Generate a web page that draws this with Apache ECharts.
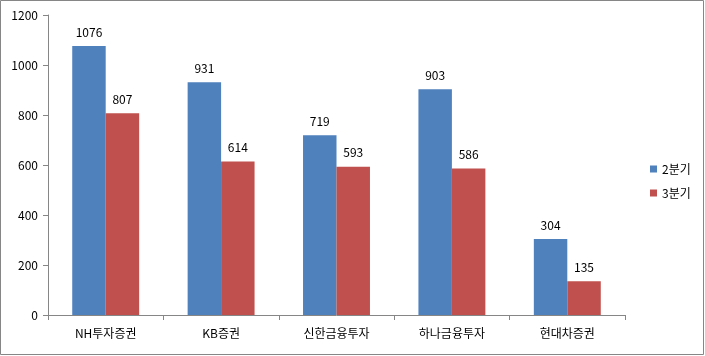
<!DOCTYPE html>
<html><head><meta charset="utf-8">
<script src="https://cdn.jsdelivr.net/npm/echarts@6/dist/echarts.min.js"></script>
<style>html,body{margin:0;padding:0;background:#fff}#c{width:705px;height:356px}</style>
</head><body><div id="c"></div>
<script>
const categories = ['NH투자증권','KB증권','신한금융투자','하나금융투자','현대차증권'];
const q2 = [1076, 931, 719, 903, 304];
const q3 = [807, 614, 593, 586, 135];
const yTicks = [0, 200, 400, 600, 800, 1000, 1200];
const FONT = '"Noto Sans CJK KR", "DejaVu Sans", sans-serif';
const chart = echarts.init(document.getElementById('c'));
chart.setOption({
  animation: false,
  textStyle: {fontFamily: FONT},
  graphic: [{type:'rect', shape:{x:0.5,y:0.5,width:703,height:354}, style:{fill:'none', stroke:'#868686', lineWidth:1}}],
  grid: {left: 48, right: 80, top: 15, bottom: 41},
  legend: {orient:'vertical', left: 645, top: 158, itemWidth: 7, itemHeight: 7, itemGap: 12, icon:'rect',
    textStyle:{fontSize: 12, color:'#000', fontFamily: FONT}},
  xAxis: {type:'category', data: categories,
    axisLine:{lineStyle:{color:'#868686'}}, axisTick:{show:true, length:5, lineStyle:{color:'#868686'}},
    axisLabel:{color:'#000', fontSize:12, margin:12, fontFamily: FONT}},
  yAxis: {type:'value', min: yTicks[0], max: yTicks[yTicks.length-1], interval: 200,
    axisLine:{show:true, lineStyle:{color:'#868686'}}, axisTick:{show:true, length:5, lineStyle:{color:'#868686'}},
    splitLine:{show:false}, axisLabel:{color:'#000', fontSize:12, margin:10, fontFamily: FONT, formatter: v => String(v)}},
  series: [
    {name:'2분기', type:'bar', data: q2, barWidth: '29%', barGap: '0%', itemStyle:{color:'#4F81BD'},
     label:{show:true, position:'top', distance:8, color:'#000', fontSize:12, fontFamily: FONT}},
    {name:'3분기', type:'bar', data: q3, barWidth: '29%', barGap: '0%', itemStyle:{color:'#C0504D'},
     label:{show:true, position:'top', distance:8, color:'#000', fontSize:12, fontFamily: FONT}}
  ]
});
</script></body></html>
